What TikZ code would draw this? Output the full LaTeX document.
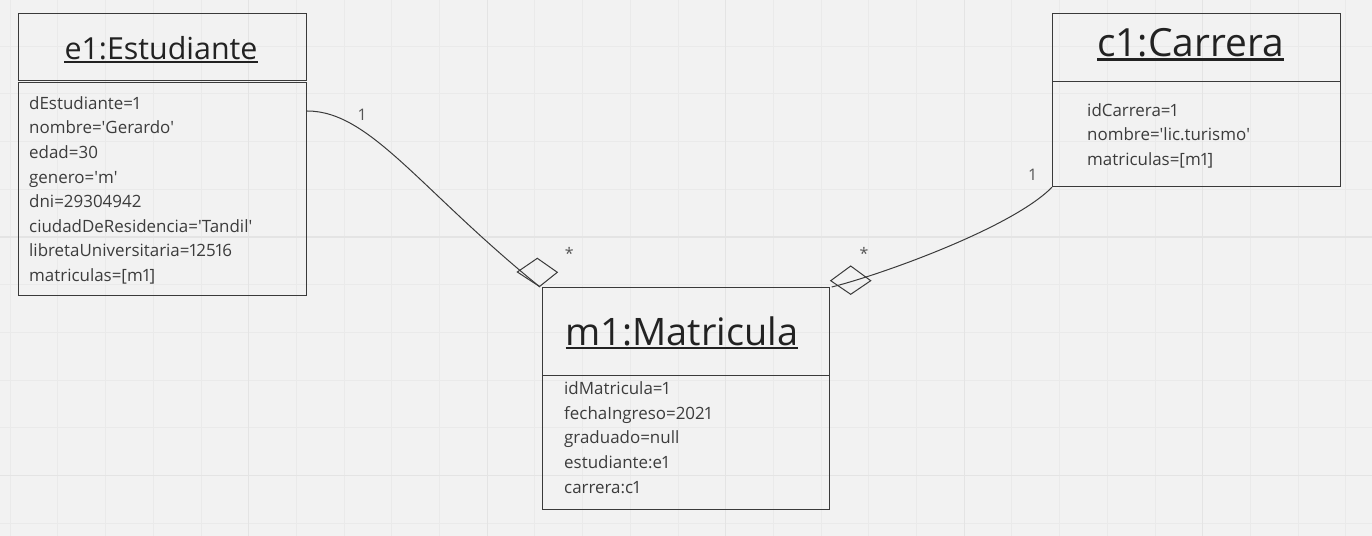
\documentclass[tikz,border=0pt]{standalone}
\usepackage{fontspec}
\setmainfont{Open Sans}
\newcommand{\sq}{\textquotesingle}
\definecolor{bgc}{HTML}{F2F2F2}
\definecolor{gridminor}{HTML}{EAEAEA}
\definecolor{gridmajor}{HTML}{E4E4E4}
\definecolor{boxc}{HTML}{3A3A3A}
\definecolor{txtc}{HTML}{3C3C3C}
\definecolor{titc}{HTML}{222222}
\definecolor{labc}{HTML}{555555}
\begin{document}
\begin{tikzpicture}[x=1bp,y=-1bp,
  umlbox/.style={draw=boxc,line width=1.2bp,inner sep=0pt,anchor=north west},
  attr/.style={anchor=base west,inner sep=0pt,text=txtc,font=\fontsize{17}{20}\selectfont\addfontfeatures{Numbers=Proportional}},
  objtitle/.style={anchor=base,inner sep=0pt,text=titc},
  ulstyle/.style={draw=titc,line width=2bp},
  conn/.style={draw=boxc,line width=1bp},
  mult/.style={inner sep=0pt,text=labc,font=\fontsize{16}{18}\selectfont},
  gmin/.style={draw=gridminor,line width=0.9bp},
  gmaj/.style={draw=gridmajor,line width=1.3bp}]
\useasboundingbox (0,0) rectangle (1372,536);
\fill[bgc] (0,0) rectangle (1372,536);
% grid
\foreach \i in {0,...,28}{\draw[gmin] ({10.2+47.7*\i},0) -- ({10.2+47.7*\i},536);}
\foreach \j in {0,...,11}{\draw[gmin] (0,{-1.5+47.7*\j}) -- (1372,{-1.5+47.7*\j});}
\foreach \i in {5,10,15,20,25}{\draw[gmaj] ({10.2+47.7*\i},0) -- ({10.2+47.7*\i},536);}
\foreach \j in {5,10}{\draw[gmaj] (0,{-1.5+47.7*\j}) -- (1372,{-1.5+47.7*\j});}

% e1:Estudiante
\node[umlbox,minimum width=288bp,minimum height=67bp] (eh) at (18,13) {};
\node[umlbox,minimum width=288bp,minimum height=213bp] (ea) at (18,82) {};
\node[objtitle,font=\fontsize{30.5}{34}\selectfont] (et) at (161,60) {e1:Estudiante};
\draw[ulstyle] ([yshift=-2.5bp]et.base west) -- ([yshift=-2.5bp]et.base east);
\node[attr] (e1) at (29,109.3) {dEstudiante=1};
\node[attr] (e2) at (29,133.9) {nombre=\sq Gerardo\sq};
\node[attr] (e3) at (29,158.5) {edad=30};
\node[attr] (e4) at (29,183.1) {genero=\sq m\sq};
\node[attr] (e5) at (29,207.7) {dni=29304942};
\node[attr] (e6) at (29,232.3) {ciudadDeResidencia=\sq Tandil\sq};
\node[attr] (e7) at (29,256.9) {libretaUniversitaria=12516};
\node[attr] (e8) at (29,281.5) {matriculas=[m1]};

% c1:Carrera
\node[umlbox,minimum width=288bp,minimum height=68bp] (ch) at (1052,13) {};
\node[umlbox,minimum width=288bp,minimum height=105bp] (ca) at (1052,81) {};
\node[objtitle,font=\fontsize{39}{44}\selectfont] (ct) at (1190.5,56.7) {c1:Carrera};
\draw[ulstyle,line width=2.4bp] ([yshift=-3bp]ct.base west) -- ([yshift=-3bp]ct.base east);
\node[attr] (c1) at (1087,116.7) {idCarrera=1};
\node[attr] (c2) at (1087,141) {nombre=\sq lic.turismo\sq};
\node[attr] (c3) at (1087,166) {matriculas=[m1]};

% m1:Matricula
\node[umlbox,minimum width=287bp,minimum height=88bp] (mh) at (542,287) {};
\node[umlbox,minimum width=287bp,minimum height=134bp] (ma) at (542,375) {};
\node[objtitle,font=\fontsize{38}{43}\selectfont] (mt) at (682,345) {m1:Matricula};
\draw[ulstyle,line width=2.4bp] ([yshift=-3bp]mt.base west) -- ([yshift=-3bp]mt.base east);
\node[attr] (m1) at (564,394.3) {idMatricula=1};
\node[attr] (m2) at (564,419) {fechaIngreso=2021};
\node[attr] (m3) at (564,443.5) {graduado=null};
\node[attr] (m4) at (564,468.3) {estudiante:e1};
\node[attr] (m5) at (564,493.3) {carrera:c1};

% connectors
\coordinate (es) at ([yshift=-29bp]ea.north east);
\draw[conn] (es) .. controls (370,111) and (420,190) .. ([xshift=-2bp]mh.north west);
\draw[conn] (517.3,272) -- (537.3,258.3) -- (557.3,272.3) -- (539.5,286.5) -- cycle;
\draw[conn] (ca.south west) .. controls (1012,228) and (880,275) .. ([xshift=1.5bp]mh.north east);
\draw[conn] (830.7,280.7) -- (850.7,266) -- (870.7,280.7) -- (850.7,294.3) -- cycle;

% multiplicities
\node[mult] (l1) at (362.3,115) {1};
\node[mult] (l2) at (569.3,253) {*};
\node[mult] (l3) at (864,253) {*};
\node[mult] (l4) at (1032.7,175) {1};
\end{tikzpicture}
\end{document}
